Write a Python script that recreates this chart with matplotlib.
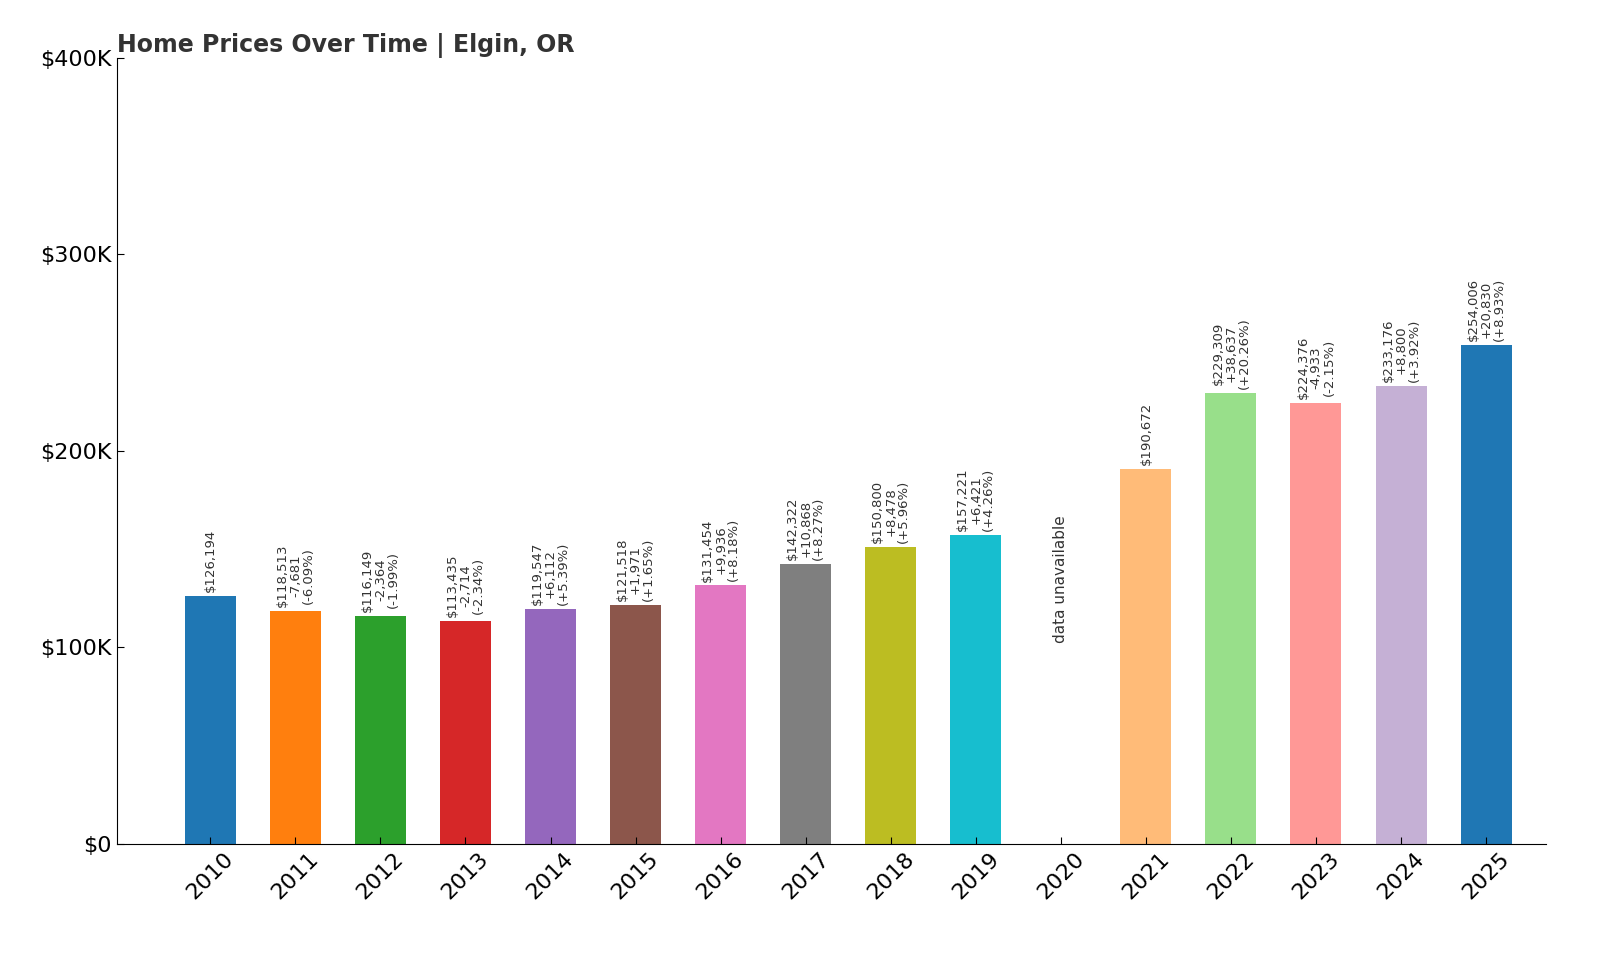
import matplotlib
matplotlib.use("Agg")
import matplotlib.pyplot as plt
import numpy as np

years = [str(y) for y in range(2010, 2026)]
values = [126194, 118513, 116149, 113435, 119547, 121518, 131454, 142322, 150800, 157221,
          None, 190672, 229309, 224376, 233176, 254006]
changes = [None, "-7,681", "-2,364", "-2,714", "+6,112", "+1,971", "+9,936", "+10,868", "+8,478", "+6,421",
           None, None, "+38,637", "-4,933", "+8,800", "+20,830"]
pcts = [None, "(-6.09%)", "(-1.99%)", "(-2.34%)", "(+5.39%)", "(+1.65%)", "(+8.18%)", "(+8.27%)", "(+5.96%)", "(+4.26%)",
        None, None, "(+20.26%)", "(-2.15%)", "(+3.92%)", "(+8.93%)"]
colors = ["#1f77b4", "#ff7f0e", "#2ca02c", "#d62728", "#9467bd", "#8c564b", "#e377c2", "#7f7f7f",
          "#bcbd22", "#17becf", "#ffffff", "#ffbb78", "#98df8a", "#ff9896", "#c5b0d5", "#1f77b4"]

fig = plt.figure(figsize=(16, 9.6), dpi=100)
ax = fig.add_axes([0.073, 0.121, 0.893, 0.819])
x = np.arange(len(years))
for i, v in enumerate(values):
    if v is None:
        ax.text(i, 102000, "data unavailable", rotation=90, ha="center", va="bottom", fontsize=11, color="#333333")
        continue
    ax.bar(i, v, width=0.6, color=colors[i])
    lines = [f"${v:,}"]
    if changes[i]:
        lines += [changes[i], pcts[i]]
    ax.text(i, v + 2000, "\n".join(lines), rotation=90, ha="center", va="bottom",
            fontsize=9.5, color="#333333", linespacing=1.0)

ax.set_xlim(-1.1, len(years) - 0.3)
ax.set_ylim(0, 400000)
ax.set_xticks(x)
ax.set_xticklabels(years, rotation=45, fontsize=16)
ax.set_yticks([0, 100000, 200000, 300000, 400000])
ax.set_yticklabels(["$0", "$100K", "$200K", "$300K", "$400K"], fontsize=16)
for s in ["top", "right"]:
    ax.spines[s].set_visible(False)
ax.tick_params(direction="in", length=5)
ax.set_title("Home Prices Over Time | Elgin, OR", loc="left", fontsize=17, fontweight="bold",
             color="#333333", pad=4)
fig.savefig("out.png", dpi=100)
